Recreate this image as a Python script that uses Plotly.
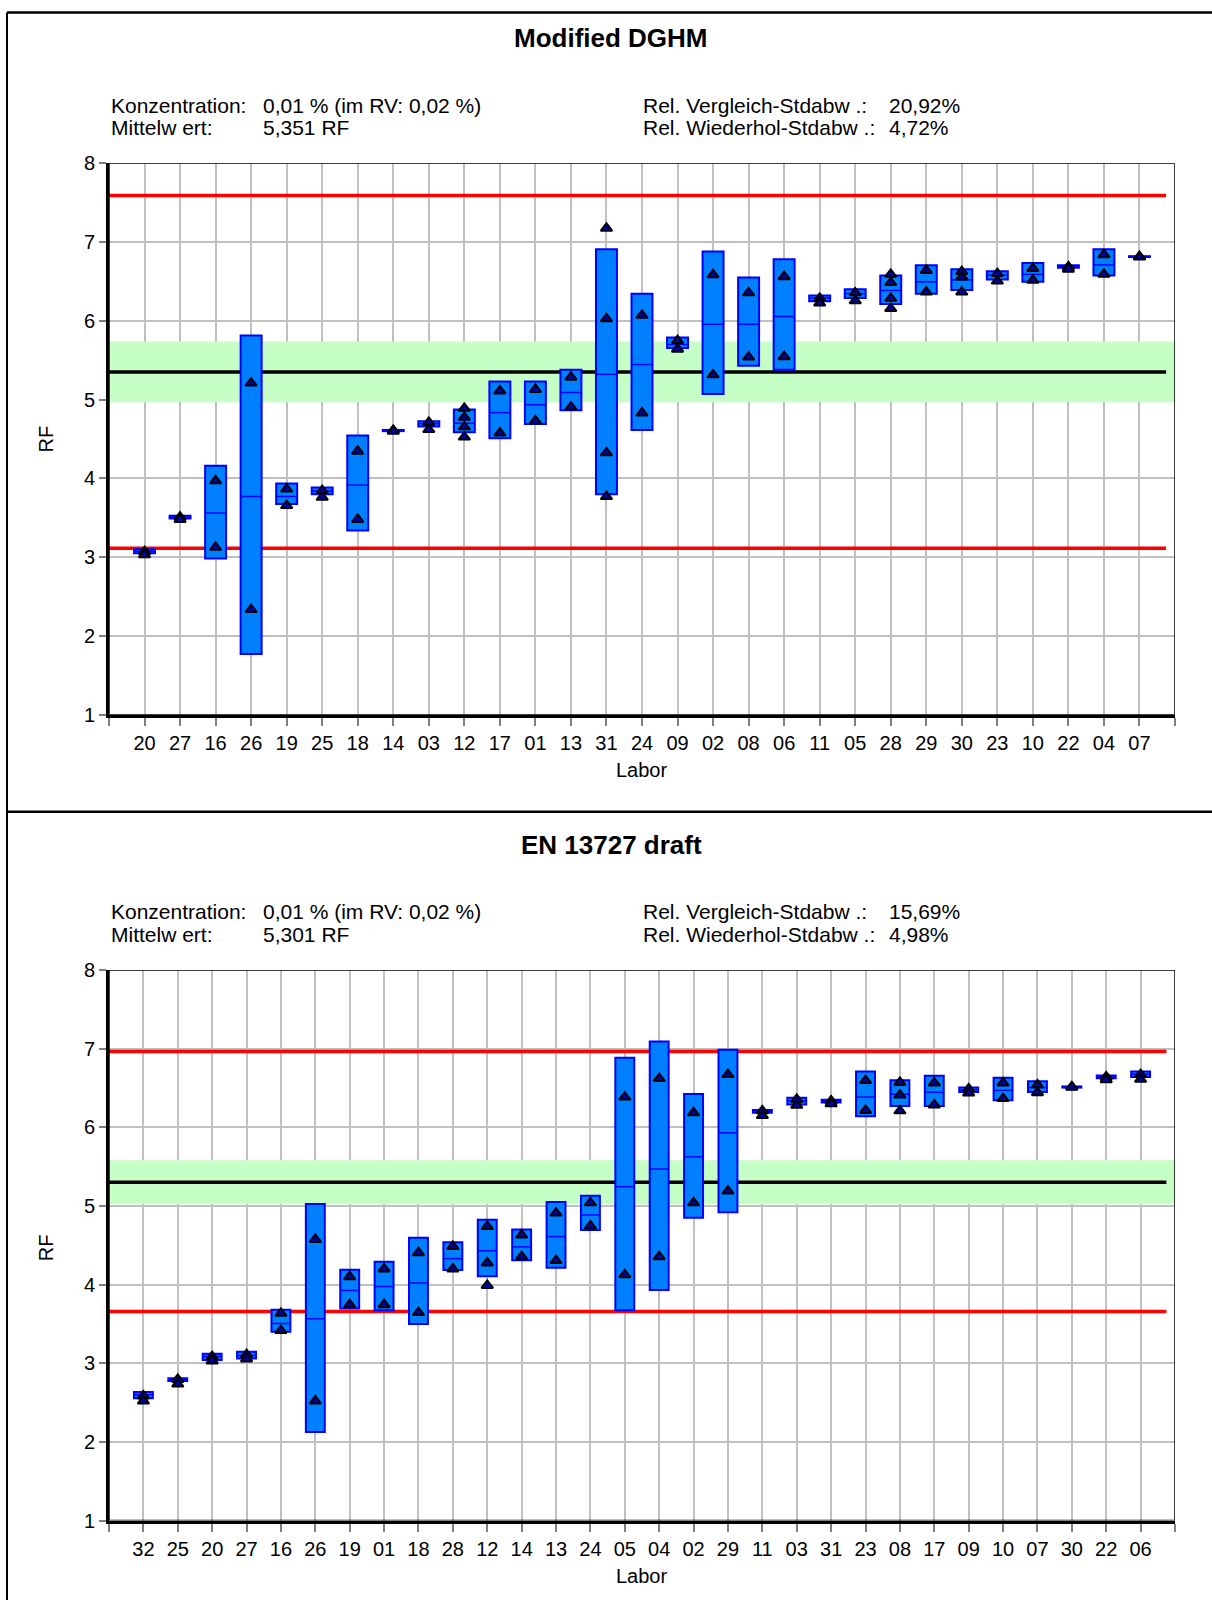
import plotly.graph_objects as go

# ---------------- data: panel 1 (Modified DGHM) ----------------
labs_a = ["20", "27", "16", "26", "19", "25", "18", "14", "03", "12", "17", "01", "13", "31", "24",
          "09", "02", "08", "06", "11", "05", "28", "29", "30", "23", "10", "22", "04", "07"]
box_lo_a = [3.05, 3.49, 2.985, 1.77, 3.675, 3.80, 3.34, 4.60, 4.66, 4.585, 4.51, 4.69, 4.865, 3.80, 4.615,
            5.655, 5.07, 5.43, 5.38, 6.25, 6.29, 6.215, 6.345, 6.39, 6.525, 6.495, 6.675, 6.575, 6.81]
box_hi_a = [3.10, 3.525, 4.16, 5.815, 3.935, 3.885, 4.545, 4.615, 4.725, 4.875, 5.23, 5.23, 5.38, 6.91, 6.345,
            5.79, 6.88, 6.55, 6.78, 6.32, 6.40, 6.575, 6.705, 6.655, 6.63, 6.735, 6.705, 6.91, 6.82]
box_mid_a = [3.075, 3.51, 3.56, 3.77, 3.77, 3.84, 3.915, 4.607, 4.695, 4.70, 4.835, 4.935, 5.09, 5.32, 5.445,
             5.70, 5.955, 5.955, 6.055, 6.29, 6.345, 6.385, 6.495, 6.52, 6.58, 6.59, 6.69, 6.71, 6.815]
reps_a = [[3.07, 3.03], [3.51, 3.48], [3.97, 3.125], [5.21, 2.335], [3.865, 3.655], [3.845, 3.76],
          [4.345, 3.48], [4.61, 4.60], [4.71, 4.62], [4.89, 4.775, 4.655, 4.525], [5.11, 4.575],
          [5.13, 4.73], [5.285, 4.905], [7.175, 6.025, 4.325, 3.77], [6.07, 4.83], [5.75, 5.64],
          [6.585, 5.315], [6.355, 5.54], [6.56, 5.545], [6.285, 6.225], [6.355, 6.255],
          [6.59, 6.485, 6.285, 6.155], [6.64, 6.365], [6.625, 6.555, 6.365], [6.60, 6.505],
          [6.665, 6.515], [6.685, 6.655], [6.84, 6.59], [6.815, 6.81]]
mean_a = 5.351
band_a = [4.967, 5.737]
limits_a = [3.115, 7.59]

# ---------------- data: panel 2 (EN 13727 draft) ----------------
labs_b = ["32", "25", "20", "27", "16", "26", "19", "01", "18", "28", "12", "14", "13", "24", "05",
          "04", "02", "29", "11", "03", "31", "23", "08", "17", "09", "10", "07", "30", "22", "06"]
box_lo_b = [2.555, 2.773, 3.04, 3.06, 3.40, 2.125, 3.695, 3.675, 3.50, 4.185, 4.105, 4.31, 4.215, 4.695, 3.675,
            3.93, 4.85, 4.92, 6.185, 6.29, 6.315, 6.14, 6.27, 6.27, 6.45, 6.345, 6.45, 6.505, 6.625, 6.64]
box_hi_b = [2.635, 2.81, 3.12, 3.145, 3.68, 5.025, 4.19, 4.29, 4.595, 4.54, 4.825, 4.70, 5.05, 5.13, 6.885,
            7.09, 6.425, 6.985, 6.22, 6.375, 6.35, 6.71, 6.60, 6.655, 6.505, 6.63, 6.585, 6.52, 6.66, 6.71]
box_mid_b = [2.60, 2.79, 3.085, 3.10, 3.505, 3.565, 3.925, 3.975, 4.02, 4.33, 4.43, 4.48, 4.61, 4.885, 5.245,
             5.47, 5.625, 5.93, 6.20, 6.335, 6.335, 6.385, 6.42, 6.445, 6.475, 6.47, 6.505, 6.513, 6.64, 6.675]
reps_b = [[2.585, 2.52], [2.795, 2.735], [3.085, 3.03], [3.11, 3.055], [3.635, 3.415], [4.575, 2.52],
          [4.10, 3.745], [4.20, 3.745], [4.405, 3.645], [4.485, 4.20], [4.74, 4.275, 3.99], [4.63, 4.355],
          [4.91, 4.305], [5.04, 4.745], [6.385, 4.125], [6.62, 4.355], [6.185, 5.04], [6.67, 5.19],
          [6.21, 6.15], [6.355, 6.28], [6.335, 6.30], [6.595, 6.215], [6.57, 6.41, 6.21], [6.565, 6.285],
          [6.49, 6.435], [6.565, 6.365], [6.54, 6.44], [6.515, 6.51], [6.64, 6.605], [6.67, 6.61]]
mean_b = 5.301
band_b = [5.022, 5.582]
limits_b = [3.658, 6.965]

titles = ["Modified DGHM", "EN 13727 draft"]
info_left_labels = ["Konzentration:", "Mittelw ert:"]
info_left_values = [["0,01 % (im RV: 0,02 %)", "5,351 RF"], ["0,01 % (im RV: 0,02 %)", "5,301 RF"]]
info_right_labels = ["Rel. Vergleich-Stdabw .:", "Rel. Wiederhol-Stdabw .:"]
info_right_values = [["20,92%", "4,72%"], ["15,69%", "4,98%"]]
y_ticks = [1, 2, 3, 4, 5, 6, 7, 8]
y_range = [1, 8]

# ---------------- page geometry (pixels) ----------------
W, H = 1212, 1611
FONT = "Liberation Sans, Arial, sans-serif"
# vertical placement: the page is framed with a small band above and below the figure
V_OFF, V_SCALE = 11.9, 0.9854


def px(x):
    return x / W


def py(y):
    y_fig = (y - V_OFF) / V_SCALE
    return min(1.0, max(0.0, 1 - y_fig / H))


BOX_FILL = "#0080FF"
BOX_EDGE = "#0000FF"
GRID = "#C0C0C0"

fig = go.Figure()
shapes = []
annotations = []

panels = [
    dict(labs=labs_a, lo=box_lo_a, hi=box_hi_a, mid=box_mid_a, reps=reps_a, mean=mean_a, band=band_a,
         lim=limits_a, top=164, bottom=715, width=0.59, title_y=39, info_y=(106, 128),
         label_y=770, rf_y=440),
    dict(labs=labs_b, lo=box_lo_b, hi=box_hi_b, mid=box_mid_b, reps=reps_b, mean=mean_b, band=band_b,
         lim=limits_b, top=970, bottom=1520, width=0.55, title_y=845, info_y=(912, 935),
         label_y=1575, rf_y=1248),
]

layout_axes = {}
for k, p in enumerate(panels):
    xa = "x" if k == 0 else "x2"
    ya = "y" if k == 0 else "y2"
    xname = "xaxis" if k == 0 else "xaxis2"
    yname = "yaxis" if k == 0 else "yaxis2"
    n = len(p["labs"])
    pos = list(range(n))
    w = p["width"]
    x_lo, x_hi = -1, n

    # boxes (low..high)
    fig.add_trace(go.Bar(
        x=pos, y=[h - l for h, l in zip(p["hi"], p["lo"])], base=p["lo"], width=w,
        marker=dict(color=BOX_FILL, line=dict(color=BOX_EDGE, width=2)),
        xaxis=xa, yaxis=ya, showlegend=False, hoverinfo="skip"))

    # laboratory mean line inside each box
    mx, my = [], []
    for i, m in zip(pos, p["mid"]):
        mx += [i - w / 2, i + w / 2, None]
        my += [m, m, None]
    fig.add_trace(go.Scatter(x=mx, y=my, mode="lines", line=dict(color=BOX_EDGE, width=1.5),
                             xaxis=xa, yaxis=ya, showlegend=False, hoverinfo="skip"))

    # individual results
    tx, ty = [], []
    for i, vals in zip(pos, p["reps"]):
        for v in vals:
            tx.append(i)
            ty.append(v)
    fig.add_trace(go.Scatter(x=tx, y=ty, mode="markers",
                             marker=dict(symbol="triangle-up", size=10, color="#0000B0",
                                         line=dict(color="black", width=2)),
                             xaxis=xa, yaxis=ya, showlegend=False, hoverinfo="skip"))

    dom_y = [py(p["bottom"]), py(p["top"])]
    layout_axes[xname] = dict(
        domain=[px(109), px(1175)], range=[x_lo, x_hi], anchor=ya,
        tickmode="array", tickvals=list(range(x_lo, x_hi + 1)), ticktext=[""] + p["labs"] + [""],
        ticks="outside", ticklen=8, tickwidth=1.5, tickcolor="#808080",
        showgrid=True, gridcolor=GRID, gridwidth=1.5, zeroline=False,
        showline=True, linecolor="black", linewidth=3,
        tickfont=dict(family=FONT, size=20, color="black"), fixedrange=True)
    layout_axes[yname] = dict(
        domain=dom_y, range=y_range, anchor=xa,
        tickmode="array", tickvals=y_ticks, ticktext=[str(t) for t in y_ticks],
        ticks="outside", ticklen=7, tickwidth=1.5, tickcolor="#808080",
        showgrid=True, gridcolor=GRID, gridwidth=1.5, zeroline=False,
        showline=True, linecolor="black", linewidth=3,
        tickfont=dict(family=FONT, size=20, color="black"), fixedrange=True)

    line_end = x_hi - 0.25
    # repeatability band around the overall mean
    shapes.append(dict(type="rect", xref=xa, yref=ya, x0=x_lo, x1=x_hi, y0=p["band"][0], y1=p["band"][1],
                       fillcolor="#C6FFC6", line=dict(width=0), layer="between"))
    # tolerance limits
    for lv in p["lim"]:
        shapes.append(dict(type="line", xref=xa, yref=ya, x0=x_lo, x1=line_end, y0=lv, y1=lv,
                           line=dict(color="#FF0000", width=3.5), layer="between"))
    # overall mean
    shapes.append(dict(type="line", xref=xa, yref=ya, x0=x_lo, x1=line_end, y0=p["mean"], y1=p["mean"],
                       line=dict(color="black", width=3.5), layer="between"))
    # plot border (top / right)
    shapes.append(dict(type="rect", xref=xa, yref=ya, x0=x_lo, x1=x_hi, y0=y_range[0], y1=y_range[1],
                       line=dict(color="black", width=1.5), layer="above"))

    # titles and info block
    annotations.append(dict(text="<b>%s</b>" % titles[k], xref="paper", yref="paper",
                            x=px(611), y=py(p["title_y"]), showarrow=False,
                            xanchor="center", yanchor="middle",
                            font=dict(family=FONT, size=26, color="black")))
    for r in range(2):
        yy = py(p["info_y"][r])
        for xx, txt in [(109, info_left_labels[r]), (261, info_left_values[k][r]),
                        (641, info_right_labels[r]), (887, info_right_values[k][r])]:
            annotations.append(dict(text=txt, xref="paper", yref="paper", x=px(xx), y=yy,
                                    showarrow=False, xanchor="left", yanchor="middle",
                                    font=dict(family=FONT, size=21, color="black")))
    annotations.append(dict(text="Labor", xref="paper", yref="paper", x=px(641), y=py(p["label_y"]),
                            showarrow=False, xanchor="center", yanchor="middle",
                            font=dict(family=FONT, size=20, color="black")))
    annotations.append(dict(text="RF", xref="paper", yref="paper", x=px(46), y=py(p["rf_y"]),
                            showarrow=False, xanchor="center", yanchor="middle", textangle=-90,
                            font=dict(family=FONT, size=20, color="black")))

# page frame: top edge, left edge and the divider between the two panels
top_edge = 1 - 1.5 / H
shapes.append(dict(type="line", xref="paper", yref="paper", x0=px(7), x1=1, y0=top_edge, y1=top_edge,
                   line=dict(color="black", width=2.5)))
shapes.append(dict(type="line", xref="paper", yref="paper", x0=px(7), x1=px(7), y0=top_edge, y1=0,
                   line=dict(color="black", width=2)))
shapes.append(dict(type="line", xref="paper", yref="paper", x0=px(7), x1=1, y0=py(812), y1=py(812),
                   line=dict(color="black", width=2.5)))

fig.update_layout(
    width=W, height=H, autosize=False,
    margin=dict(l=0, r=0, t=0, b=0, pad=0),
    paper_bgcolor="white", plot_bgcolor="white",
    showlegend=False, hovermode=False, barmode="overlay",
    shapes=shapes, annotations=annotations,
    font=dict(family=FONT, color="black"),
    **layout_axes,
)

fig.write_html("out.html", config={"displayModeBar": False})
